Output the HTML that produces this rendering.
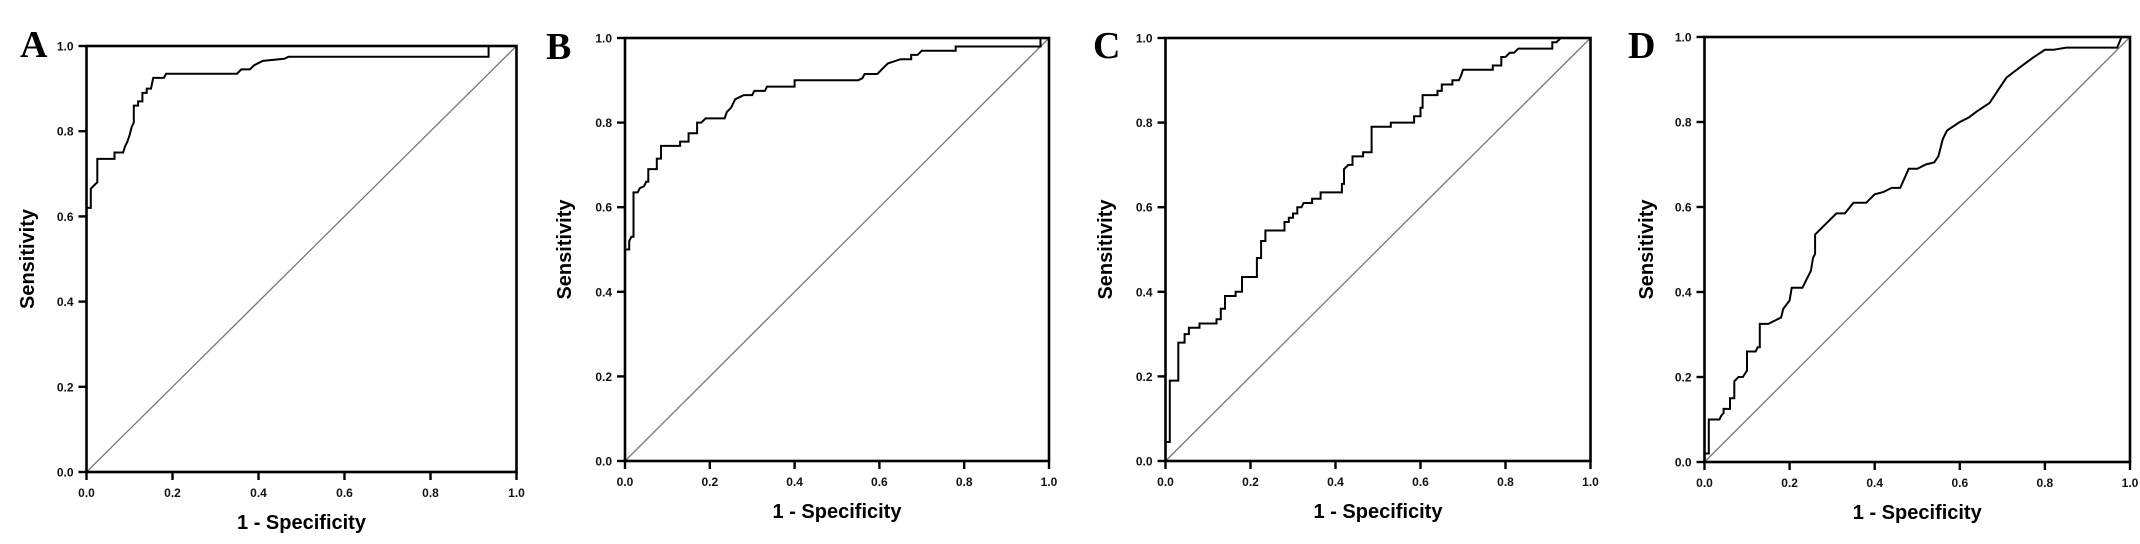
<!DOCTYPE html>
<html><head><meta charset="utf-8">
<style>
html,body{margin:0;padding:0;background:#fff;}
svg{display:block;}
.tick{font-family:"Liberation Sans",sans-serif;font-weight:bold;font-size:12px;fill:#111;}
.title{font-family:"Liberation Sans",sans-serif;font-weight:bold;font-size:20px;fill:#000;}
.letter{font-family:"Liberation Serif",serif;font-weight:bold;font-size:38px;fill:#000;}
</style></head>
<body>
<svg id="fig" width="2140" height="544" viewBox="0 0 2140 544" xmlns="http://www.w3.org/2000/svg"></svg>
<script>
const tickValues = [0, 0.2, 0.4, 0.6, 0.8, 1.0];
const tickLabels = ["0.0", "0.2", "0.4", "0.6", "0.8", "1.0"];
const panelLetters = ["A", "B", "C", "D"];
const rocA_fpr = [0,0,0.01,0.01,0.02,0.025,0.025,0.065,0.065,0.085,0.09,0.095,0.1,0.105,0.11,0.11,0.12,0.12,0.13,0.13,0.14,0.14,0.15,0.155,0.18,0.185,0.35,0.36,0.38,0.39,0.41,0.46,0.47,0.935,0.935,1];
const rocA_tpr = [0,0.62,0.62,0.665,0.675,0.68,0.735,0.735,0.75,0.75,0.765,0.775,0.79,0.81,0.82,0.86,0.86,0.87,0.87,0.89,0.89,0.9,0.9,0.925,0.925,0.935,0.935,0.945,0.945,0.955,0.965,0.97,0.975,0.975,1,1];
const rocB_fpr = [0,0,0.01,0.01,0.015,0.02,0.02,0.03,0.035,0.045,0.05,0.055,0.055,0.075,0.075,0.085,0.085,0.13,0.13,0.15,0.15,0.17,0.17,0.18,0.19,0.235,0.24,0.25,0.26,0.27,0.28,0.3,0.305,0.33,0.335,0.4,0.4,0.55,0.56,0.565,0.595,0.61,0.62,0.635,0.65,0.675,0.675,0.69,0.7,0.78,0.78,0.98,0.98,1];
const rocB_tpr = [0,0.5,0.5,0.52,0.53,0.53,0.635,0.635,0.645,0.65,0.66,0.66,0.69,0.69,0.715,0.715,0.745,0.745,0.755,0.755,0.775,0.775,0.8,0.8,0.81,0.81,0.825,0.835,0.855,0.86,0.865,0.865,0.875,0.875,0.885,0.885,0.9,0.9,0.905,0.915,0.915,0.93,0.94,0.945,0.95,0.95,0.96,0.96,0.97,0.97,0.98,0.98,1,1];
const rocC_fpr = [0,0,0.01,0.01,0.03,0.03,0.045,0.045,0.055,0.055,0.08,0.08,0.12,0.12,0.13,0.13,0.14,0.14,0.165,0.165,0.18,0.18,0.215,0.215,0.225,0.225,0.235,0.235,0.28,0.28,0.29,0.29,0.3,0.3,0.31,0.31,0.32,0.325,0.345,0.345,0.365,0.365,0.415,0.415,0.42,0.42,0.43,0.44,0.44,0.465,0.465,0.485,0.485,0.53,0.53,0.585,0.585,0.6,0.6,0.605,0.605,0.64,0.64,0.65,0.65,0.675,0.675,0.69,0.695,0.7,0.77,0.77,0.79,0.79,0.8,0.81,0.82,0.83,0.91,0.91,0.92,0.93,1];
const rocC_tpr = [0,0.045,0.045,0.19,0.19,0.28,0.28,0.3,0.3,0.315,0.315,0.325,0.325,0.335,0.335,0.36,0.36,0.39,0.39,0.4,0.4,0.435,0.435,0.48,0.48,0.52,0.52,0.545,0.545,0.565,0.565,0.575,0.575,0.585,0.585,0.6,0.6,0.61,0.61,0.62,0.62,0.635,0.635,0.655,0.655,0.69,0.7,0.7,0.72,0.72,0.73,0.73,0.79,0.79,0.8,0.8,0.815,0.815,0.835,0.835,0.865,0.865,0.875,0.875,0.89,0.89,0.9,0.9,0.91,0.925,0.925,0.935,0.935,0.955,0.955,0.965,0.965,0.975,0.975,0.99,0.99,1,1];
const rocD_fpr = [0,0,0.01,0.01,0.035,0.04,0.045,0.045,0.06,0.06,0.07,0.07,0.08,0.09,0.1,0.1,0.12,0.125,0.13,0.13,0.15,0.17,0.18,0.185,0.2,0.205,0.23,0.24,0.25,0.255,0.26,0.26,0.28,0.31,0.33,0.35,0.38,0.4,0.42,0.44,0.46,0.48,0.5,0.52,0.54,0.55,0.56,0.57,0.6,0.62,0.64,0.67,0.69,0.71,0.73,0.75,0.77,0.8,0.82,0.85,0.97,0.98,1];
const rocD_tpr = [0,0.02,0.02,0.1,0.1,0.11,0.115,0.125,0.125,0.15,0.15,0.19,0.2,0.2,0.215,0.26,0.26,0.27,0.27,0.325,0.325,0.335,0.34,0.36,0.38,0.41,0.41,0.43,0.45,0.48,0.49,0.535,0.555,0.585,0.585,0.61,0.61,0.63,0.635,0.645,0.645,0.69,0.69,0.7,0.705,0.72,0.76,0.78,0.8,0.81,0.825,0.845,0.875,0.905,0.92,0.935,0.95,0.97,0.97,0.975,0.975,1,1];

const panels = [
  {x0:86.5,x1:516.5,yTop:46,yBot:472,fpr:rocA_fpr,tpr:rocA_tpr,lx:20,ly:57,ytx:34},
  {x0:625,x1:1049,yTop:38,yBot:461,fpr:rocB_fpr,tpr:rocB_tpr,lx:546,ly:59,ytx:571},
  {x0:1165.5,x1:1590.5,yTop:38,yBot:461,fpr:rocC_fpr,tpr:rocC_tpr,lx:1093,ly:58,ytx:1112},
  {x0:1704.5,x1:2130,yTop:37,yBot:462,fpr:rocD_fpr,tpr:rocD_tpr,lx:1628,ly:58,ytx:1653}
];
const NS = "http://www.w3.org/2000/svg";
const svg = document.getElementById('fig');
function mk(tag, attrs, parent){const e=document.createElementNS(NS,tag);for(const k in attrs)e.setAttribute(k,attrs[k]);parent.appendChild(e);return e;}

panels.forEach((p,i)=>{
  const sx = v => p.x0 + v*(p.x1-p.x0);
  const sy = v => p.yBot - v*(p.yBot-p.yTop);
  const g = mk('g',{},svg);
  
  

  const lt = mk('text',{x:p.lx,y:p.ly,class:'letter'},g);
  lt.textContent = panelLetters[i];
  
  

  const diag = mk('line',{x1:sx(0),y1:sy(0),x2:sx(1),y2:sy(1),stroke:'#777',"stroke-width":1.3},g);
  
  

  let d='';
  for(let k=0;k<p.fpr.length;k++){d+=(k?'L':'M')+sx(p.fpr[k]).toFixed(1)+' '+sy(p.tpr[k]).toFixed(1);}
  const curve = mk('path',{d:d,fill:'none',stroke:'#000',"stroke-width":2,"stroke-linejoin":"miter"},g);
  
  

  const frame = mk('rect',{x:p.x0,y:p.yTop,width:p.x1-p.x0,height:p.yBot-p.yTop,fill:'none',stroke:'#000',"stroke-width":2.6},g);
  
  

  tickValues.forEach((v,j)=>{
    const tx = mk('line',{x1:sx(v),y1:p.yBot,x2:sx(v),y2:p.yBot+8,stroke:'#000',"stroke-width":2.4},g);
    
    
    const xl = mk('text',{x:sx(v),y:p.yBot+25,"text-anchor":'middle',class:'tick'},g);
    xl.textContent = tickLabels[j];
    
    
    const ty = mk('line',{x1:p.x0-8,y1:sy(v),x2:p.x0,y2:sy(v),stroke:'#000',"stroke-width":2.4},g);
    
    
    const yl = mk('text',{x:p.x0-13,y:sy(v)+4.5,"text-anchor":'end',class:'tick'},g);
    yl.textContent = tickLabels[j];
    
    
  });

  const xt = mk('text',{x:(p.x0+p.x1)/2,y:p.yBot+57,"text-anchor":'middle',class:'title'},g);
  xt.textContent = '1 - Specificity';
  
  
  const cy = (p.yTop+p.yBot)/2;
  const yt = mk('text',{x:p.ytx,y:cy,"text-anchor":'middle',class:'title',transform:'rotate(-90 '+p.ytx+' '+cy+')'},g);
  yt.textContent = 'Sensitivity';
  
  
});
</script>
</body></html>
